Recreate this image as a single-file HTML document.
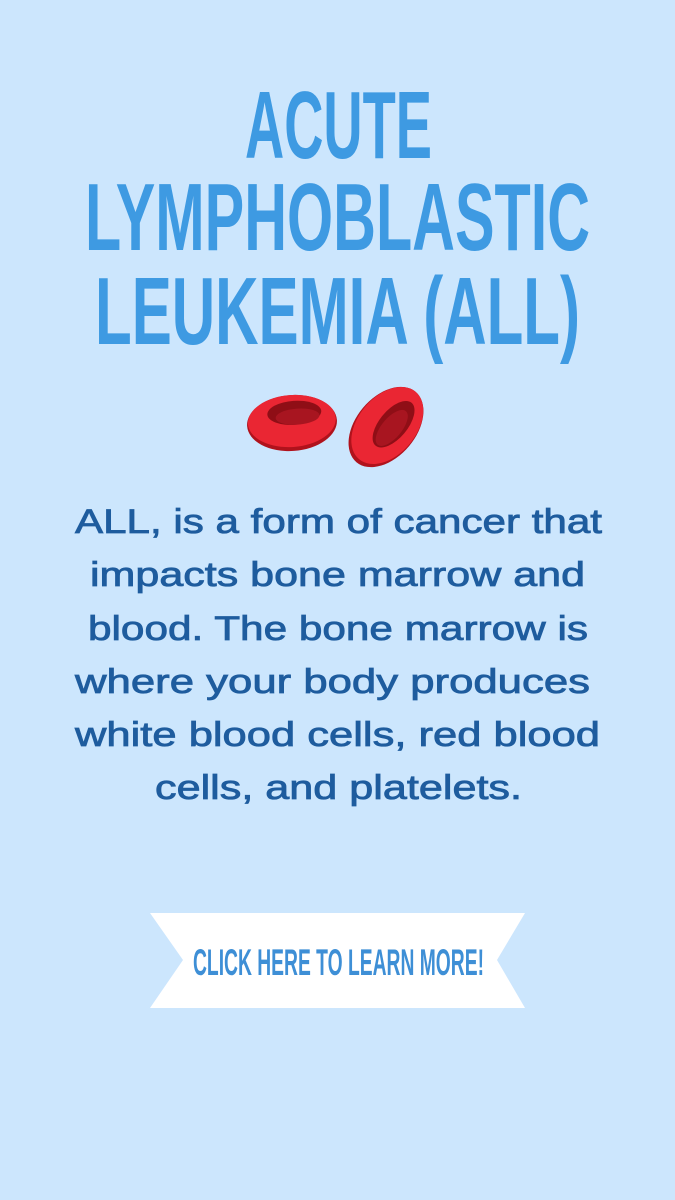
<!DOCTYPE html>
<html><head><meta charset="utf-8"><style>
html,body{margin:0;padding:0;background:#cce6fd;}
svg{display:block}
</style></head><body>
<svg width="675" height="1200" viewBox="0 0 675 1200">
<rect width="675" height="1200" fill="#cce6fd"/>
<g font-family="'Liberation Sans', sans-serif" font-weight="bold" fill="#3e9ae2" text-anchor="start">
<text x="245" y="158" font-size="96" textLength="187" lengthAdjust="spacingAndGlyphs">ACUTE</text>
<text x="85" y="250" font-size="96" textLength="505" lengthAdjust="spacingAndGlyphs">LYMPHOBLASTIC</text>
<text x="95" y="344" font-size="96" textLength="485" lengthAdjust="spacingAndGlyphs">LEUKEMIA (ALL)</text>
</g>
<g>
<g transform="rotate(-4 292 423)">
<ellipse cx="292" cy="423" rx="45" ry="28" fill="#b0121c"/>
<ellipse cx="292" cy="421" rx="44" ry="26" fill="#ea2633"/>
<ellipse cx="295" cy="413" rx="27" ry="12" fill="#8f0e16"/>
<ellipse cx="298" cy="417" rx="22" ry="8" fill="#a81520"/>
</g>
<g transform="rotate(40 386 427)">
<ellipse cx="386" cy="427" rx="30" ry="46" fill="#b0121c"/>
<ellipse cx="386" cy="425" rx="29" ry="44" fill="#ea2633"/>
<ellipse cx="390" cy="420" rx="14" ry="28" fill="#8f0e16"/>
<ellipse cx="391" cy="424" rx="10" ry="22" fill="#a81520"/>
</g>
</g>
<g font-family="'Liberation Sans', sans-serif" font-size="34" fill="#1e5c9e" stroke="#1e5c9e" stroke-width="0.8">
<text x="75" y="533" textLength="527" lengthAdjust="spacingAndGlyphs">ALL, is a form of cancer that</text>
<text x="90" y="586" textLength="495" lengthAdjust="spacingAndGlyphs">impacts bone marrow and</text>
<text x="88" y="640" textLength="500" lengthAdjust="spacingAndGlyphs">blood. The bone marrow is</text>
<text x="75" y="693" textLength="515" lengthAdjust="spacingAndGlyphs">where your body produces</text>
<text x="75" y="746" textLength="525" lengthAdjust="spacingAndGlyphs">white blood cells, red blood</text>
<text x="155" y="799" textLength="367" lengthAdjust="spacingAndGlyphs">cells, and platelets.</text>
</g>
<g>
<polygon points="150,913 525,913 497,960 525,1008 150,1008 183,960" fill="#ffffff"/>
<text x="193" y="975" font-family="'Liberation Sans', sans-serif" font-weight="bold" font-size="37" fill="#3e8fd6" textLength="291" lengthAdjust="spacingAndGlyphs">CLICK HERE TO LEARN MORE!</text>
</g>
</svg>
</body></html>
